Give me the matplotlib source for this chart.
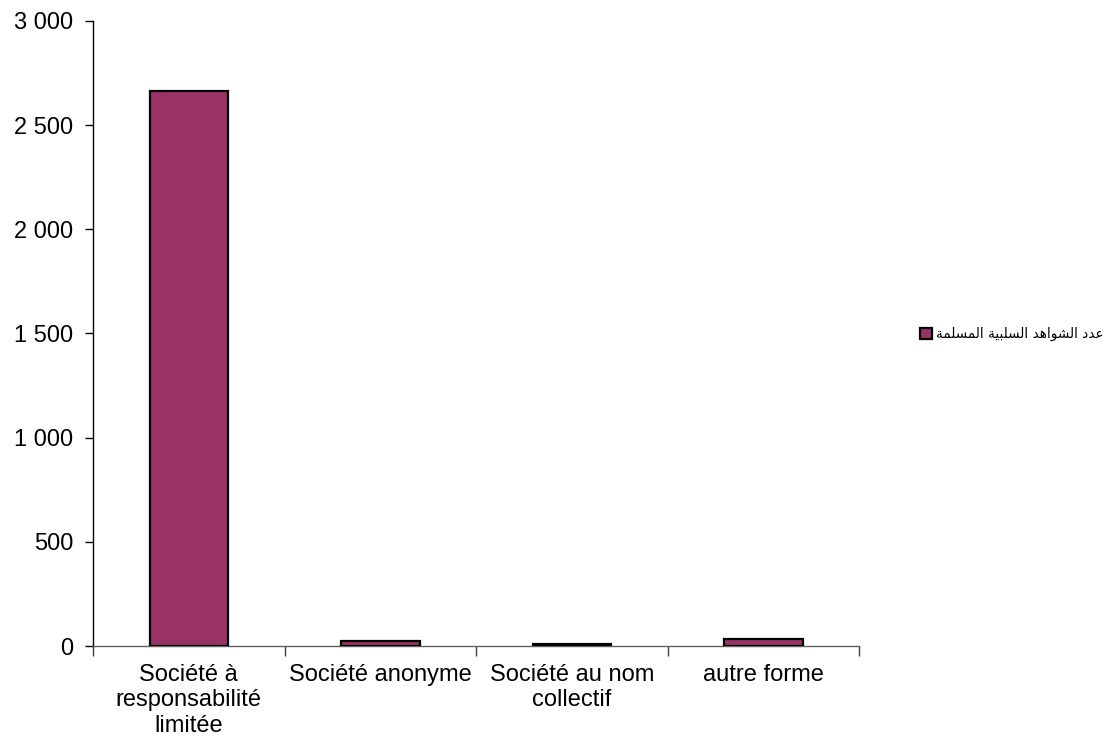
import matplotlib
matplotlib.use("Agg")
import matplotlib.pyplot as plt
import numpy as np

# Données
categories = ["Société à\nresponsabilité\nlimitée", "Société anonyme",
              "Société au nom\ncollectif", "autre forme"]
values = [2664, 22, 8, 33]
y_ticks = [0, 500, 1000, 1500, 2000, 2500, 3000]
y_labels = ["0", "500", "1 000", "1 500", "2 000", "2 500", "3 000"]
series_name = "عدد الشواهد السلبية المسلمة"

# Mise en forme arabe (formes de présentation) : matplotlib ne fait pas le shaping
FORMS = {
    "ا": ("\uFE8D", "\uFE8E", None, None),
    "ب": ("\uFE8F", "\uFE90", "\uFE91", "\uFE92"),
    "ة": ("\uFE93", "\uFE94", None, None),
    "د": ("\uFEA9", "\uFEAA", None, None),
    "س": ("\uFEB1", "\uFEB2", "\uFEB3", "\uFEB4"),
    "ش": ("\uFEB5", "\uFEB6", "\uFEB7", "\uFEB8"),
    "ع": ("\uFEC9", "\uFECA", "\uFECB", "\uFECC"),
    "ل": ("\uFEDD", "\uFEDE", "\uFEDF", "\uFEE0"),
    "م": ("\uFEE1", "\uFEE2", "\uFEE3", "\uFEE4"),
    "ه": ("\uFEE9", "\uFEEA", "\uFEEB", "\uFEEC"),
    "و": ("\uFEED", "\uFEEE", None, None),
    "ي": ("\uFEF1", "\uFEF2", "\uFEF3", "\uFEF4"),
}


def dual(c):
    return c in FORMS and FORMS[c][2] is not None


def shape(text):
    out = []
    for i, c in enumerate(text):
        if c not in FORMS:
            out.append(c)
            continue
        prev = text[i - 1] if i > 0 else ""
        nxt = text[i + 1] if i + 1 < len(text) else ""
        jp = dual(prev)
        jn = dual(c) and nxt in FORMS
        iso, fin, ini, med = FORMS[c]
        if jp and jn:
            out.append(med)
        elif jp:
            out.append(fin)
        elif jn:
            out.append(ini)
        else:
            out.append(iso)
    return "".join(out)[::-1]


plt.rcParams["font.family"] = ["Liberation Sans", "DejaVu Sans"]

fig = plt.figure(figsize=(11.13, 7.44), dpi=100)
ax = fig.add_axes([0.0836, 0.1317, 0.7718 - 0.0836, 0.9718 - 0.1317])

x = np.arange(len(categories))
ax.bar(x, values, width=0.41, color="#993366", edgecolor="black", linewidth=1.6,
       label=shape(series_name), zorder=3)

ax.set_xlim(-0.5, len(categories) - 0.5)
ax.set_ylim(0, 3000)
ax.set_yticks(y_ticks)
ax.set_yticklabels(y_labels, fontsize=17)
ax.set_xticks(x)
ax.set_xticklabels(categories, fontsize=17, linespacing=1.2)
ax.tick_params(axis="x", length=0, pad=13)
ax.set_xticks(np.arange(-0.5, len(categories), 1.0), minor=True)
ax.tick_params(axis="x", which="minor", length=7, width=1, color="#404040")
ax.tick_params(axis="y", length=6, width=1, pad=8)

for s in ["top", "right"]:
    ax.spines[s].set_visible(False)
ax.spines["left"].set_linewidth(1)
ax.spines["bottom"].set_linewidth(1)
ax.spines["bottom"].set_color("#606060")

leg = fig.legend(loc="center left", bbox_to_anchor=(0.8266, 0.551), frameon=False,
                 handlelength=0.9, handleheight=0.9, handletextpad=0.25,
                 borderpad=0, borderaxespad=0,
                 prop={"family": ["DejaVu Sans"], "size": 9.8})

fig.savefig("out.png", dpi=100)
